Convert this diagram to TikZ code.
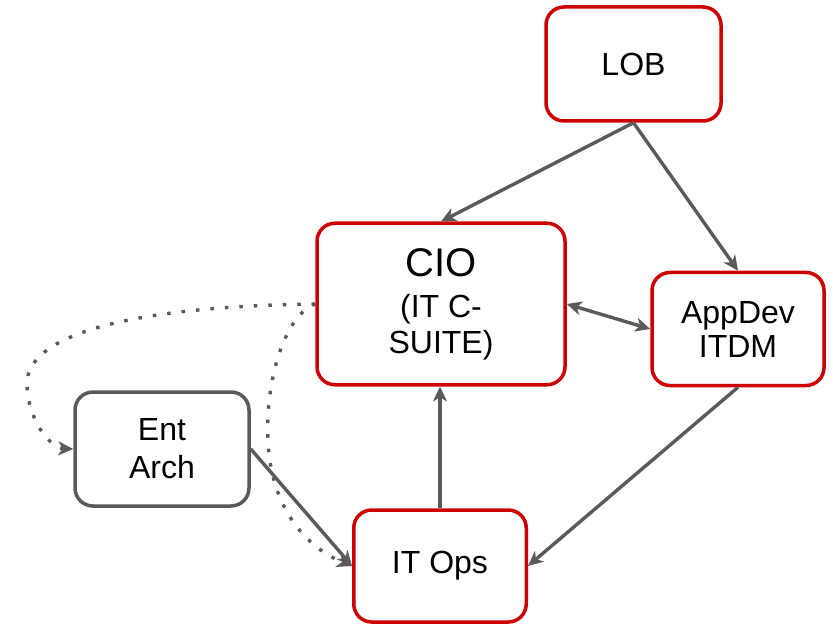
\documentclass[tikz,border=0pt]{standalone}
\usepackage{fontspec}
\setmainfont{Liberation Sans}
\usetikzlibrary{arrows.meta}
\definecolor{boxred}{HTML}{CC0000}
\definecolor{linegray}{HTML}{5A5A5A}
\begin{document}
\begin{tikzpicture}[x=1pt,y=-1pt,
  box/.style={draw, line width=3.5pt, rounded corners=18pt, align=center, inner sep=0pt,
    font=\fontsize{32}{36}\selectfont, text=black, fill=white},
  redbox/.style={box, draw=boxred},
  graybox/.style={box, draw=linegray},
  conn/.style={draw=linegray, line width=3.4pt, -{Stealth[length=15pt,width=14pt,inset=4.5pt]}},
  dualconn/.style={draw=linegray, line width=3.4pt, {Stealth[length=15pt,width=14pt,inset=4.5pt]}-{Stealth[length=15pt,width=14pt,inset=4.5pt]}},
  dotconn/.style={conn, dash pattern=on 3.5pt off 11pt}
]
\useasboundingbox (0,0) rectangle (838,628);

\node[redbox, minimum width=175pt, minimum height=114pt] (lob) at (633.5,64) {LOB};
\node[redbox, minimum width=248pt, minimum height=161.5pt] (cio) at (441,304)
  {{\fontsize{40}{40}\selectfont CIO}\\[5pt](IT C-\\SUITE)};
\node[redbox, minimum width=172pt, minimum height=113pt] (appdev) at (738,329) {AppDev\\[-2pt]ITDM};
\node[graybox, minimum width=174pt, minimum height=114pt] (ent) at (162,449) {Ent\\[2pt]Arch};
\node[redbox, minimum width=172.5pt, minimum height=112pt] (itops) at (440,566) {IT Ops};

\draw[conn] (lob.south) -- (cio.north);
\draw[conn] (lob.south) -- (appdev.north);
\draw[dualconn] (cio.east) -- (appdev.west);
\draw[conn] (itops.north) -- (itops.north |- cio.south);
\draw[conn] (appdev.south) -- (itops.east);
\draw[conn] (ent.east) -- (itops.west);

\draw[dotconn] (cio.west) .. controls (150,306) and (25,330) .. (27,385)
  .. controls (28,420) and (50,448) .. (ent.west);
\draw[dotconn] (cio.west) .. controls (285,315) and (265,380) .. (268,440)
  .. controls (270,500) and (300,545) .. (itops.west);
\end{tikzpicture}
\end{document}
